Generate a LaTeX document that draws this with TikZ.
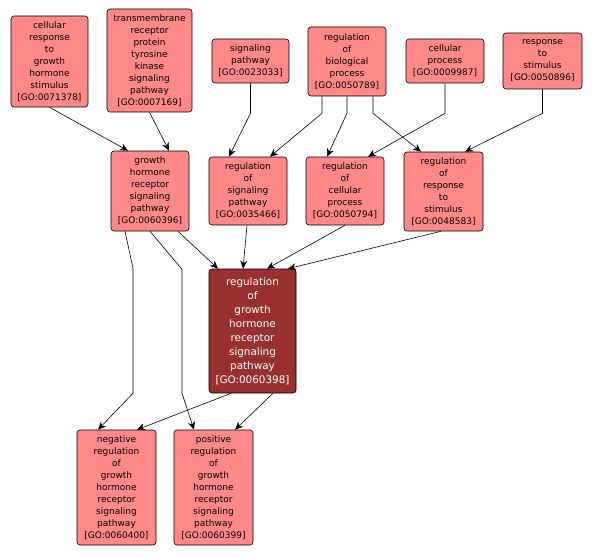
\documentclass[tikz,border=0pt]{standalone}
\usepackage{fontspec}
\setmainfont{DejaVu Sans}
\usetikzlibrary{positioning,arrows.meta}
\definecolor{termfill}{RGB}{255,137,137}
\definecolor{focusfill}{RGB}{153,48,48}

\begin{document}
\begin{tikzpicture}[
  x=1pt, y=-1pt,
  term/.style={draw, rounded corners=3pt, fill=termfill, line width=0.6pt, align=center, inner sep=0pt, minimum width=78pt, font=\fontsize{9}{12}\selectfont},
  focus/.style={term, fill=focusfill, text=white, minimum width=87pt, font=\fontsize{10.4}{14}\selectfont},
  isa/.style={-{Stealth[length=8pt,width=7pt,inset=2.5pt]}, line width=0.6pt}
]
\useasboundingbox (0,0) rectangle (593,556);

% top row
\node[term, minimum width=77pt, minimum height=91pt] (gh stim) at (49.5,61.5) {cellular\\response\\to\\growth\\hormone\\stimulus\\{[GO:0071378]}};
\node[term, minimum width=85pt, minimum height=103pt] (rtk) at (149.5,60.5) {transmembrane\\receptor\\protein\\tyrosine\\kinase\\signaling\\pathway\\{[GO:0007169]}};
\node[term, minimum width=77pt, minimum height=44pt] (sig) at (250.5,61) {signaling\\pathway\\{[GO:0023033]}};
\node[term, minimum height=69pt] (biol) at (347,61.5) {regulation\\of\\biological\\process\\{[GO:0050789]}};
\node[term, minimum height=44pt] (cell) at (445,61) {cellular\\process\\{[GO:0009987]}};
\node[term, minimum width=79pt, minimum height=56pt] (resp) at (542.5,61) {response\\to\\stimulus\\{[GO:0050896]}};

% middle row
\node[term, minimum height=80pt] (ghr) at (150,191) {growth\\hormone\\receptor\\signaling\\pathway\\{[GO:0060396]}};
\node[term, minimum height=68pt] (reg sig) at (248,191) {regulation\\of\\signaling\\pathway\\{[GO:0035466]}};
\node[term, minimum height=68pt] (reg cell) at (345,191) {regulation\\of\\cellular\\process\\{[GO:0050794]}};
\node[term, minimum width=79pt, minimum height=79pt] (reg resp) at (443.5,191.5) {regulation\\of\\response\\to\\stimulus\\{[GO:0048583]}};

% focus term
\node[focus, minimum height=124pt] (reg ghr) at (252.5,331) {regulation\\of\\growth\\hormone\\receptor\\signaling\\pathway\\{[GO:0060398]}};

% bottom row
\node[term, minimum width=79pt, minimum height=115pt] (neg) at (116.5,487.5) {negative\\regulation\\of\\growth\\hormone\\receptor\\signaling\\pathway\\{[GO:0060400]}};
\node[term, minimum width=79pt, minimum height=115pt] (pos) at (213.5,487.5) {positive\\regulation\\of\\growth\\hormone\\receptor\\signaling\\pathway\\{[GO:0060399]}};

\draw[isa] (gh stim.south) -- ([xshift=-22pt]ghr.north);
\draw[isa] (rtk.south) -- ([xshift=19pt]ghr.north);
\draw[isa] (sig.south) -- ++(0,30) -- ([xshift=-19pt]reg sig.north);
\draw[isa] ([xshift=-25pt]biol.south) -- ++(0,17) -- ([xshift=22pt]reg sig.north);
\draw[isa] (biol.south) -- ++(0,17) -- ([xshift=-18pt]reg cell.north);
\draw[isa] ([xshift=26pt]biol.south) -- ++(0,17) -- ([xshift=-22.5pt]reg resp.north);
\draw[isa] (cell.south) -- ++(0,30) -- ([xshift=23pt]reg cell.north);
\draw[isa] (resp.south) -- ++(0,24) -- ([xshift=21.5pt]reg resp.north);

\draw[isa] ([xshift=28pt]ghr.south) -- ([xshift=-34.5pt]reg ghr.north);
\draw[isa] ([xshift=-1pt]reg sig.south) -- ([xshift=-9.5pt]reg ghr.north);
\draw[isa] (reg cell.south) -- ([xshift=14.5pt]reg ghr.north);
\draw[isa] ([xshift=-2.5pt]reg resp.south) -- ([xshift=35.5pt]reg ghr.north);

\draw[isa] ([xshift=-25pt]ghr.south) -- ++(8,37) -- ++(0,125) -- ([xshift=-18.5pt]neg.north);
\draw[isa] (ghr.south) -- ++(32,38) -- ++(0,124) -- ([xshift=-19.5pt]pos.north);
\draw[isa] ([xshift=-21.5pt]reg ghr.south) -- ([xshift=20.5pt]neg.north);
\draw[isa] ([xshift=20.5pt]reg ghr.south) -- ([xshift=21.5pt]pos.north);
\end{tikzpicture}
\end{document}
